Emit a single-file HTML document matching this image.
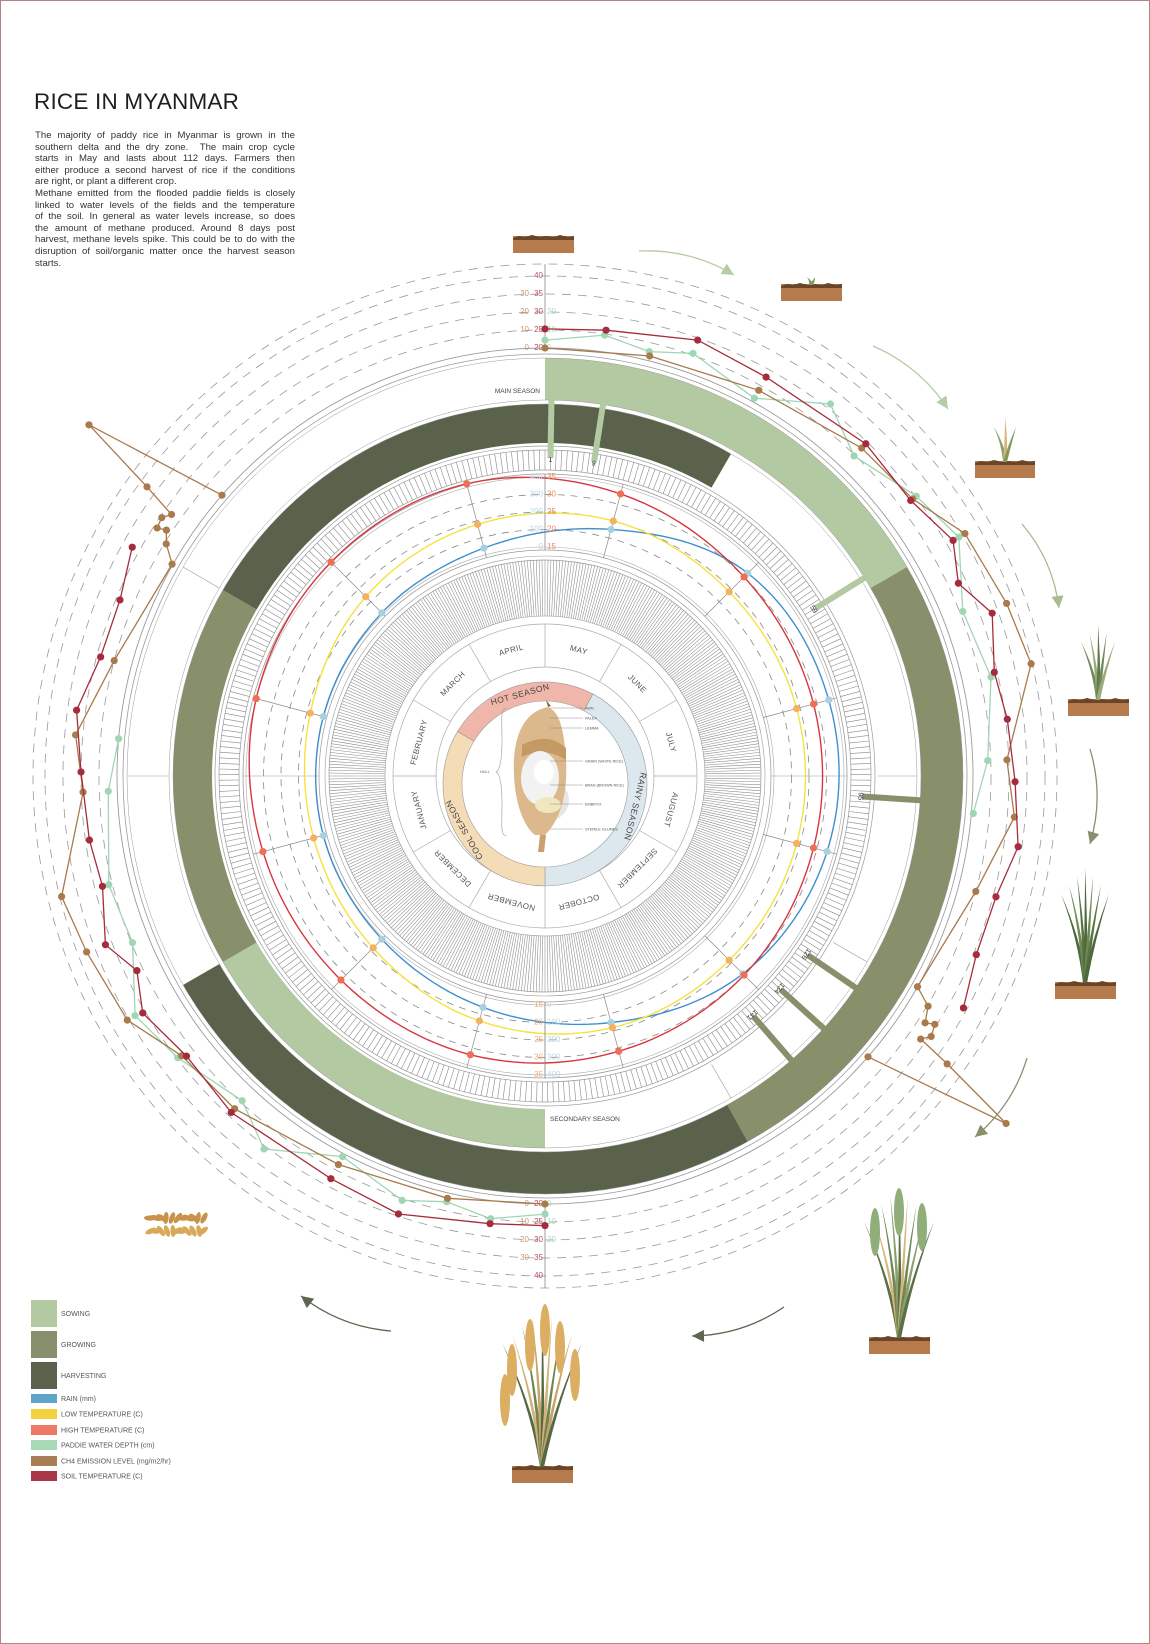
<!DOCTYPE html>
<html><head><meta charset="utf-8"><title>Rice in Myanmar</title>
<style>
html,body{margin:0;padding:0;background:#fff;}
#page{position:relative;width:1150px;height:1644px;overflow:hidden;background:#fff;font-family:"Liberation Sans",sans-serif;}
#frame{position:absolute;left:0;top:0;width:1148px;height:1642px;border:1px solid #b08484;}
#title{position:absolute;left:34px;top:89px;font-size:22.5px;color:#1e1e1e;letter-spacing:0.2px;}
#intro{position:absolute;left:35px;top:130px;width:260px;font-size:9.6px;line-height:11.6px;color:#333;}
#intro span{display:block;text-align:justify;text-align-last:justify;white-space:nowrap;}
#intro span.l{text-align-last:left;}
svg{position:absolute;left:0;top:0;}
</style></head>
<body>
<div id="page">
<div id="frame"></div>
<div id="title">RICE IN MYANMAR</div>
<div id="intro">
<span>The majority of paddy rice in Myanmar is grown in the</span>
<span>southern delta and the dry zone.&nbsp; The main crop cycle</span>
<span>starts in May and lasts about 112 days. Farmers then</span>
<span>either produce a second harvest of rice if the conditions</span>
<span class="l">are right, or plant a different crop.</span>
<span>Methane emitted from the flooded paddie fields is closely</span>
<span>linked to water levels of the fields and the temperature</span>
<span>of the soil. In general as water levels increase, so does</span>
<span>the amount of methane produced. Around 8 days post</span>
<span>harvest, methane levels spike. This could be to do with the</span>
<span>disruption of soil/organic matter once the harvest season</span>
<span class="l">starts.</span>
</div>
<svg id="chart" width="1150" height="1644" viewBox="0 0 1150 1644"></svg>
</div>
<script>
// ---------- DATA ----------
const months = ["MAY","JUNE","JULY","AUGUST","SEPTEMBER","OCTOBER","NOVEMBER","DECEMBER","JANUARY","FEBRUARY","MARCH","APRIL"];
const rainMm = [150,330,370,360,290,150,60,10,3,3,10,40];
const lowTempC = [25,24,24,24,24,24,22,19,18,19,22,24];
const highTempC = [33,30,29,29,30,31,32,32,33,35,36,36];
const innerTempTicks = [15,20,25,30,35];
const innerRainTicks = [0,100,200,300,400];
const soilTicks = [20,25,30,35,40];
const ch4Ticks = [0,10,20,30];
const waterTicks = [0,10,20];
// main season (day index ~ degrees from top)
const soilMainDay = [0,7.8,19.3,29,44,53,60,65,70,77,83,90.7,98.5,105,112.5,119];
const soilMainVal = [25.3,26.1,29.4,27.8,29.4,28.3,32,27.8,33.3,29.2,30.5,31.7,34,30.8,30.8,34];
const waterMainDay = [0,7.7,13.8,19.3,29,37.5,44,53,60,68.5,77.5,88,95];
const waterMainVal = [4.4,9.4,5,11,2.2,22.7,9.4,20.5,27.7,11.7,16,8.3,1.1];
const ch4MainDay = [0,14,29,44,53,60,69.5,77,88,95,105,119.5,121,123,122.5,124,125,125.6,127,131];
const ch4MainVal = [0,2.7,7.2,15.5,18,31.6,36,39.4,19,24,10,0,10.5,14,19,21,17,37,83,0];
// secondary season
const soilSecDay = [180,187,198.5,208,223,232,239.5,244.5,249,256,262,270.5,278,285,292.5,299];
const soilSecVal = [26,26.4,29.4,27.8,28.9,27.5,30.8,26.7,31.9,27.8,28.9,30,32.5,28.9,28.9,32.2];
const waterSecDay = [180,187,193,198.6,208,217,223,232.5,239.7,248,256,268,275];
const waterSecVal = [5.6,10,5,11,1.7,21.7,8.9,19.4,26,9.4,12,5,0];
const ch4SecDay = [180,193,208,223,232.4,239.7,249,256,268,275,285,299.6,301.5,303,302.6,304,305,306,307.6,311];
const ch4SecVal = [0,3,6.7,15,17,31,35,39,19,24,10,0.5,9,13,18,19,15.5,35.5,82,0];
// crop stage bands (start/end day)
const mainStages = [["sowing",0,60],["growing",60,151],["harvesting",151,240]];
const secStages = [["sowing",180,240],["growing",240,300],["harvesting",300,390]];
const markerDays = [1,9,59,95,126,134,141];
const seasons = [["HOT SEASON",-59,28],["RAINY SEASON",28,180],["COOL SEASON",180,301]];

// ---------- SETUP ----------
const NS='http://www.w3.org/2000/svg';
const svg=document.getElementById('chart');
const CX=545, CY=776;
const COL={sowing:'#b3c9a1',growing:'#878f6b',harvesting:'#5a624b',rain:'#3f8fcc',rainM:'#a9d0e0',low:'#f5e23c',lowM:'#f2b260',high:'#d8363f',highM:'#ee6f55',water:'#9fd6b3',ch4:'#a97a4b',soil:'#a52c3c',grid:'#8a8a8a'};
function mk(tag,attrs,parent){const n=document.createElementNS(NS,tag);for(const k in attrs)n.setAttribute(k,attrs[k]);(parent||svg).appendChild(n);return n;}
function P(r,deg,cy){const a=deg*Math.PI/180;return [CX+r*Math.sin(a),(cy===undefined?CY:cy)-r*Math.cos(a)];}
function annular(r0,r1,a0,a1,cy){const s1=P(r1,a0,cy),e1=P(r1,a1,cy),s0=P(r0,a0,cy),e0=P(r0,a1,cy);const lg=(a1-a0)>180?1:0;
 return `M${s1[0]},${s1[1]}A${r1},${r1} 0 ${lg} 1 ${e1[0]},${e1[1]}L${e0[0]},${e0[1]}A${r0},${r0} 0 ${lg} 0 ${s0[0]},${s0[1]}Z`;}
// scales
const rInnerTemp=v=>229+(v-15)*3.5;
const rInnerRain=v=>229+v*0.175;
const rSoil=v=>428+(v-20)*3.6;
const rCh4=v=>428+v*1.8;
const rWater=v=>428+v*1.8;
const dayToDeg=d=>d;

// ---------- RINGS ----------
const gBack=mk('g',{});


// stage bands
mainStages.forEach(s=>{
 const p=mk('path',{d:annular(376,418,dayToDeg(s[1]),dayToDeg(s[2])),fill:COL[s[0]]},gBack);
 
 
});
secStages.forEach(s=>{
 const p=mk('path',{d:annular(333,372,dayToDeg(s[1]),dayToDeg(s[2])),fill:COL[s[0]]},gBack);
 
 
});
// outline circles
[[160,0.6],[216,0.7],[220,0.6],[226,0.7],[302,0.8],[306,0.7],[326,0.7],[330,0.7],[372,0.5],[376,0.5],[418,0.5],[422,0.8],[428,0.9]].forEach(c=>{
 const n=mk('circle',{cx:CX,cy:CY,r:c[0],fill:'none',stroke:'#9a9a9a','stroke-width':c[1]},gBack);
 
 
});
// dashed outer grid
[446,464,482,500,512].forEach(r=>{
 const n=mk('circle',{cx:CX,cy:CY,r:r,fill:'none',stroke:'#999','stroke-width':0.8,'stroke-dasharray':'9 7'},gBack);
 
 
});
// inner chart dashed grid
[246.5,264,281.5].forEach(r=>{
 const n=mk('circle',{cx:CX,cy:CY,r:r,fill:'none',stroke:'#888','stroke-width':0.8,'stroke-dasharray':'7 6'},gBack);
 
 
});
[229,299].forEach(r=>{
 const n=mk('circle',{cx:CX,cy:CY,r:r,fill:'none',stroke:'#aaa','stroke-width':0.6},gBack);
 
 
});
// day tick ring
let dt='';
for(let i=0;i<365;i++){const a=i*360/365;const p0=P(306,a),p1=P(326,a);dt+=`M${p0[0].toFixed(1)},${p0[1].toFixed(1)}L${p1[0].toFixed(1)},${p1[1].toFixed(1)}`;}
const dtp=mk('path',{d:dt,stroke:'#888','stroke-width':0.6,fill:'none'},gBack);


// fine hatch ring
let ht='';
for(let i=0;i<460;i++){const a=i*360/460;const p0=P(160,a),p1=P(216,a);ht+=`M${p0[0].toFixed(1)},${p0[1].toFixed(1)}L${p1[0].toFixed(1)},${p1[1].toFixed(1)}`;}
const htp=mk('path',{d:ht,stroke:'#8a8a8a','stroke-width':0.55,fill:'none'},gBack);


// radial lines in inner chart at mid-months
for(let i=0;i<12;i++){const a=15+i*30;const p0=P(226,a),p1=P(302,a);
 const l=mk('line',{x1:p0[0],y1:p0[1],x2:p1[0],y2:p1[1],stroke:'#8a8a8a','stroke-width':0.7},gBack);
 
 }
// radial lines at quarters
[90,180,270].forEach(a=>{const p0=P(226,a),p1=P(302,a);
 const l=mk('line',{x1:p0[0],y1:p0[1],x2:p1[0],y2:p1[1],stroke:'#999','stroke-width':0.6},gBack);
 
 });
// band dividers in white areas
[[333,372,120],[333,372,150],[376,418,300],[376,418,270],[333,372,90]].forEach(d=>{const p0=P(d[0],d[2]),p1=P(d[1],d[2]);
 const l=mk('line',{x1:p0[0],y1:p0[1],x2:p1[0],y2:p1[1],stroke:'#999','stroke-width':0.6},gBack);
 
 });

// ---------- DAY MARKER BARS ----------
markerDays.forEach((d,i)=>{
 const a=d*360/365;const col=d<60?COL.sowing:COL.growing;
 const rTop=d<60?380:(d<100?378:378);
 const p0=P(318,a),p1=P(rTop,a);
 const l=mk('line',{x1:p0[0],y1:p0[1],x2:p1[0],y2:p1[1],stroke:col,'stroke-width':6},svg);
 
 
 const t=P(316,a);
 const tx=mk('text',{x:t[0],y:t[1],'font-size':7,fill:'#333','text-anchor':'middle','dominant-baseline':'middle',transform:`rotate(${a} ${t[0]} ${t[1]})`},svg);
 tx.textContent=d;
 
 
});

// ---------- MONTH RING ----------
const gm=mk('g',{});


[109,152].forEach(r=>{const n=mk('circle',{cx:CX,cy:CY,r:r,fill:'none',stroke:'#aaa','stroke-width':0.7},gm);
 
 });
months.forEach((m,i)=>{
 const a0=i*30;const p0=P(109,a0),p1=P(152,a0);
 const l=mk('line',{x1:p0[0],y1:p0[1],x2:p1[0],y2:p1[1],stroke:'#aaa','stroke-width':0.7},gm);
 
 
 const am=a0+15;const t=P(130,am);
 const tx=mk('text',{x:t[0],y:t[1],'font-size':8,fill:'#555','text-anchor':'middle','dominant-baseline':'middle','letter-spacing':0.4,transform:`rotate(${am} ${t[0]} ${t[1]})`},gm);
 tx.textContent=m;
 
 
});
// season ring
const SCY=784;
const seasonFill={"HOT SEASON":'#f1b6aa',"RAINY SEASON":'#dde8ee',"COOL SEASON":'#f3dcb6'};
seasons.forEach(s=>{
 const p=mk('path',{d:annular(83,102,s[1],s[2],SCY),fill:seasonFill[s[0]],stroke:'#9a9a9a','stroke-width':0.6},svg);
 
 
 const am=(s[1]+s[2])/2;const t=P(92.5,am,SCY);
 const tx=mk('text',{x:t[0],y:t[1],'font-size':8.5,fill:'#444','text-anchor':'middle','dominant-baseline':'middle','letter-spacing':0.5,transform:`rotate(${am} ${t[0]} ${t[1]})`},svg);
 tx.textContent=s[0];
 
 
});

// ---------- INNER CLIMATE CHART ----------
function periodicSpline(vals,deg){ // deg -> value via Catmull-Rom through mid-month points
 const n=vals.length;let t=(deg-15)/30;t=((t%n)+n)%n;const i=Math.floor(t),f=t-i;
 const p0=vals[(i-1+n)%n],p1=vals[i],p2=vals[(i+1)%n],p3=vals[(i+2)%n];
 return 0.5*((2*p1)+(-p0+p2)*f+(2*p0-5*p1+4*p2-p3)*f*f+(-p0+3*p1-3*p2+p3)*f*f*f);}
function innerCurve(vals,scale,color,name,mcolor){
 let d='';for(let a=0;a<=360;a+=2){const p=P(scale(periodicSpline(vals,a)),a);d+=(a?'L':'M')+p[0].toFixed(1)+','+p[1].toFixed(1);}
 const path=mk('path',{d:d+'Z',fill:'none',stroke:color,'stroke-width':1.4});
 
 
 vals.forEach((v,i)=>{const p=P(scale(v),15+i*30);
  const c=mk('circle',{cx:p[0],cy:p[1],r:3.6,fill:mcolor});
  
  });
}
innerCurve(rainMm,rInnerRain,COL.rain,'rain',COL.rainM);
innerCurve(lowTempC,rInnerTemp,COL.low,'low-temperature',COL.lowM);
innerCurve(highTempC,rInnerTemp,COL.high,'high-temperature',COL.highM);

// ---------- AXES ----------
function axisLine(y1,y2,name){const l=mk('line',{x1:CX,y1:y1,x2:CX,y2:y2,stroke:'#888','stroke-width':0.8});
 
 }
axisLine(CY-512,CY-428,'outer-axis-top');
axisLine(CY+428,CY+512,'outer-axis-bottom');
axisLine(CY-302,CY-226,'inner-axis-top');
axisLine(CY+226,CY+302,'inner-axis-bottom');
function lab(x,y,txt,col,anchor,name){const t=mk('text',{x:x,y:y,'font-size':8,fill:col,'text-anchor':anchor,'dominant-baseline':'middle'});t.textContent=txt;
 
 }
soilTicks.forEach(v=>{lab(CX-2,CY-rSoil(v),v,'#b45060','end','soil-temp-tick-top');lab(CX-2,CY+rSoil(v),v,'#b45060','end','soil-temp-tick-bottom');});
ch4Ticks.forEach(v=>{lab(CX-16,CY-rCh4(v),v,'#c59a76','end','ch4-tick-top');lab(CX-16,CY+rCh4(v),v,'#c59a76','end','ch4-tick-bottom');});
waterTicks.forEach(v=>{lab(CX+2,CY-rWater(v),v,'#a9dcba','start','water-tick-top');lab(CX+2,CY+rWater(v),v,'#a9dcba','start','water-tick-bottom');});
innerTempTicks.forEach(v=>{lab(CX+2,CY-rInnerTemp(v),v,'#ee8a62','start','inner-temp-tick-top');lab(CX-2,CY+rInnerTemp(v),v,'#efae78','end','inner-temp-tick-bottom');});
innerRainTicks.forEach(v=>{lab(CX-2,CY-rInnerRain(v),v,'#b8d6e2','end','rain-tick-top');lab(CX+2,CY+rInnerRain(v),v,'#b8d6e2','start','rain-tick-bottom');});

// ---------- OUTER SERIES ----------
function outerSeries(days,vals,scale,color,name){
 const pts=days.map((d,i)=>P(scale(vals[i]),dayToDeg(d)));
 const pl=mk('polyline',{points:pts.map(p=>p[0].toFixed(1)+','+p[1].toFixed(1)).join(' '),fill:'none',stroke:color,'stroke-width':1.3});
 
 
 pts.forEach(p=>{const c=mk('circle',{cx:p[0],cy:p[1],r:3.6,fill:color});
  
  });
}
outerSeries(waterMainDay,waterMainVal,rWater,COL.water,'main-water-depth');
outerSeries(waterSecDay,waterSecVal,rWater,COL.water,'secondary-water-depth');
outerSeries(ch4MainDay,ch4MainVal,rCh4,COL.ch4,'main-ch4-emission');
outerSeries(ch4SecDay,ch4SecVal,rCh4,COL.ch4,'secondary-ch4-emission');
outerSeries(soilMainDay,soilMainVal,rSoil,COL.soil,'main-soil-temp');
outerSeries(soilSecDay,soilSecVal,rSoil,COL.soil,'secondary-soil-temp');

// season labels
(function(){const t1=mk('text',{x:540,y:393,'font-size':6.5,fill:'#444','text-anchor':'end'});t1.textContent='MAIN SEASON';
 
 
 const t2=mk('text',{x:550,y:1121,'font-size':6.5,fill:'#444','text-anchor':'start'});t2.textContent='SECONDARY SEASON';
 
 })();

// ---------- GRAIN ILLUSTRATION ----------
(function(){
 const g=mk('g',{});
 
 
 mk('ellipse',{cx:545,cy:800,rx:24,ry:22,fill:'#e6e6e6'},g);
 mk('path',{d:'M548,707 C522,712 512,740 514,775 C515,805 525,828 535,835 L545,835 C560,820 568,795 566,760 C564,730 560,712 548,707Z',fill:'#dcb98c'},g);
 mk('path',{d:'M522,745 C540,735 556,738 566,748 L566,760 C550,750 536,750 522,757Z',fill:'#c49a64'},g);
 mk('ellipse',{cx:540,cy:778,rx:19,ry:27,fill:'#f2f2f2'},g);
 mk('ellipse',{cx:544,cy:772,rx:10,ry:12,fill:'#fff'},g);
 mk('ellipse',{cx:548,cy:805,rx:13,ry:8,fill:'#efe7c0'},g);
 mk('path',{d:'M540,835 L538,852 L544,852 L546,835Z',fill:'#c9a070'},g);
 mk('path',{d:'M548,707 L546,700 L551,706Z',fill:'#8a6a40'},g);
 const labels=[['AWN',708],['PALEA',718],['LEMMA',728],['GRAIN (WHITE RICE)',761],['BRAN (BROWN RICE)',785],['EMBRYO',804],['STERILE GLUMES',829]];
 labels.forEach(l=>{const ln=mk('line',{x1:550,y1:l[1],x2:583,y2:l[1],stroke:'#777','stroke-width':0.4},g);
  
  
  const t=mk('text',{x:585,y:l[1]+1.3,'font-size':3.8,fill:'#555'},g);t.textContent=l[0];
  
  });
 const br=mk('path',{d:'M507,708 C500,708 502,718 502,740 C502,760 500,770 496,772 C500,774 502,784 502,804 C502,826 500,836 507,836',fill:'none',stroke:'#999','stroke-width':0.6},g);
 
 
 const h=mk('text',{x:480,y:773,'font-size':3.8,fill:'#555'},g);h.textContent='HULL';
 
 
})();

// ---------- PLANTS ----------
function soil(x,y,w,name){const g=mk('g',{});
 
 
 mk('rect',{x:x,y:y,width:w,height:17,fill:'#b57b4c'},g);
 mk('path',{d:`M${x},${y+2} l6,-2 l6,1 l7,-2 l8,2 l6,-1 l8,1 l6,-2 l8,2 l${w-55},-1 L${x+w},${y+4} L${x},${y+4}Z`,fill:'#6a4528'},g);
 return g;}
function plant(cx,base,h,n,colors,spread,name){const g=mk('g',{});
 
 
 for(let i=0;i<n;i++){const f=n===1?0:(i/(n-1)-0.5);const tipX=cx+f*spread;const tipY=base-h*(1-Math.abs(f)*0.45);
  const col=colors[i%colors.length];
  mk('path',{d:`M${cx-2},${base} Q${cx+f*spread*0.3},${(base+tipY)/2} ${tipX},${tipY} Q${cx+f*spread*0.3+3},${(base+tipY)/2} ${cx+2},${base}Z`,fill:col},g);}
 return g;}
soil(513,236,61,'soil-bare');
soil(781,284,61,'soil-sprout');plant(811,285,10,2,['#7e9a5c'],8,'sprout-plant');
soil(975,461,60,'soil-seedling');plant(1005,462,45,3,['#8aa36a','#d8b87a','#7f9a60'],22,'seedling-plant');
soil(1068,699,61,'soil-young-plant');plant(1098,700,75,5,['#6f8a58','#9aac7c','#5f7a4a'],34,'young-plant');
soil(1055,982,61,'soil-tillering');plant(1085,983,115,7,['#4e6a3c','#6f8a55','#5a7446'],48,'tillering-plant');
soil(869,1337,61,'soil-heading');plant(899,1338,150,9,['#5c7048','#d7b679','#6f8657','#8aa06d'],70,'heading-plant');
(function(){[[875,1210],[899,1190],[922,1205]].forEach(p=>{const e=mk('ellipse',{cx:p[0],cy:p[1]+22,rx:5,ry:24,fill:'#8fae7a'});
 
 });})();
soil(512,1466,61,'soil-mature');plant(542,1467,160,9,['#556a44','#d6b27a','#6e8553','#c9a468'],80,'mature-plant');
(function(){[[512,1345],[530,1320],[545,1305],[560,1322],[575,1350],[505,1375]].forEach(p=>{const e=mk('ellipse',{cx:p[0],cy:p[1]+25,rx:5,ry:26,fill:'#dcae62'});
 
 });})();
(function(){const g=mk('g',{});
 
 
 for(let i=0;i<22;i++){const x=150+(i*37%58),y=1218+(i*13%26);mk('ellipse',{cx:x,cy:y,rx:6,ry:2.6,fill:i%2?'#d9a95a':'#c8924a',transform:`rotate(${(i*47)%180} ${x} ${y})`},g);}})();

// ---------- ARROWS ----------
[[639,251,734,275,'#b6cca4'],[873,346,948,409,'#b6cca4'],[1022,524,1059,608,'#a8bb92'],[1090,749,1090,844,'#87906a'],[1027,1058,975,1137,'#87906a'],[784,1307,692,1336,'#5c6650'],[391,1331,301,1296,'#5c6650']].forEach(a=>{
 const mx=(a[0]+a[2])/2+(a[3]-a[1])*0.15, my=(a[1]+a[3])/2-(a[2]-a[0])*0.15;
 const p=mk('path',{d:`M${a[0]},${a[1]} Q${mx},${my} ${a[2]},${a[3]}`,fill:'none',stroke:a[4],'stroke-width':1.3});
 
 
 const ang=Math.atan2(a[3]-my,a[2]-mx);const L=12,W=6;
 const bx=a[2]-L*Math.cos(ang),by=a[3]-L*Math.sin(ang);
 const h=mk('path',{d:`M${a[2]},${a[3]}L${bx+W*Math.sin(ang)},${by-W*Math.cos(ang)}L${bx-W*Math.sin(ang)},${by+W*Math.cos(ang)}Z`,fill:a[4]});
 
 
});

// ---------- LEGEND ----------
const legendItems=[['SOWING',COL.sowing,1300,27],['GROWING','#878f6c',1331,27],['HARVESTING',COL.harvesting,1362,27],['RAIN (mm)','#5fa4c9',1394,9],['LOW TEMPERATURE (C)','#f3d23e',1409,10],['HIGH TEMPERATURE (C)','#ec7a64',1425,10],['PADDIE WATER DEPTH (cm)','#a8d9b6',1440,10],['CH4 EMISSION LEVEL (mg/m2/hr)','#a87c55',1456,10],['SOIL TEMPERATURE (C)','#a93748',1471,10]];
legendItems.forEach(it=>{
 const r=mk('rect',{x:31,y:it[2],width:26,height:it[3],fill:it[1]});
 
 
 const t=mk('text',{x:61,y:it[2]+it[3]/2+2.5,'font-size':7,fill:'#555'});t.textContent=it[0];
 
 
});
</script>
</body></html>
